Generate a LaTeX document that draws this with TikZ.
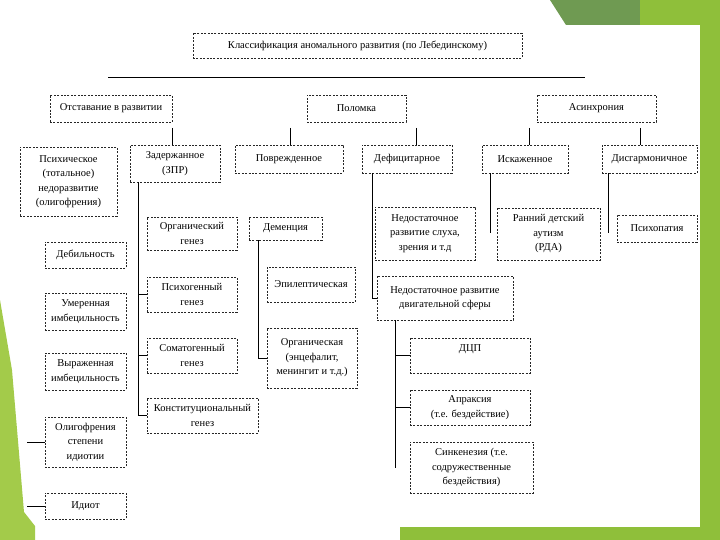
\documentclass[tikz,border=0pt]{standalone}
\usepackage{fontspec}
\setmainfont{Liberation Serif}
\usetikzlibrary{positioning}
\definecolor{darkleaf}{HTML}{6F9A52}
\definecolor{leaf}{HTML}{8FBF3A}
\definecolor{paleleaf}{HTML}{A3CB4A}
\tikzset{block/.style=
   {rectangle,
    draw=black!85,
    dash pattern=on 2pt off 1.4pt,
    line width=0.6pt,
    text centered,
    align=center,
    inner sep=1pt,
    font=\fontsize{10.5}{14.5}\selectfont}}
\tikzset{boxsize/.style 2 args={minimum width=#1pt, minimum height=#2pt}}
\tikzset{link/.style = {draw, line width=0.7pt}}

\begin{document}
\begin{tikzpicture}[x=1pt, y=-1pt]
    \useasboundingbox (0,0) rectangle (720,540);

    % Slide background
    \fill[white] (0,0) rectangle (720,540);
    \fill[darkleaf] (550,0) -- (640,0) -- (640,25) -- (566,25) -- cycle;
    \fill[leaf] (640,0) -- (720,0) -- (720,540) -- (700,540) -- (700,25) -- (640,25) -- cycle;
    \fill[paleleaf] (0,300) -- (12,370) -- (24,512) -- (35,526) -- (35,540) -- (0,540) -- cycle;
    \fill[leaf] (400,527) rectangle (720,540);

    % Title
    \node [block, boxsize={329}{25}] (title) at (357.5,45.5) {Классификация аномального развития (по Лебединскому)};
    \coordinate (hl) at (108,77);
    \coordinate (hr) at (585,77);
    \path [link] (hl) -- (hr);

    % Level 1
    \node [block, boxsize={122}{27}] (otst) at (111,108.5) {Отставание в развитии};
    \node [block, boxsize={99}{27}] (polom) at (356.5,108.5) {Поломка};
    \node [block, boxsize={119}{27}] (asin) at (596.5,108.5) {Асинхрония};

    % Level 2
    \node [block, boxsize={97}{69}] (psih) at (68.5,181.5) {Психическое\\(тотальное)\\недоразвитие\\(олигофрения)};
    \node [block, boxsize={90}{37}] (zpr) at (175,163.5) {Задержанное\\(ЗПР)};
    \node [block, boxsize={108}{28}] (povr) at (289,159) {Поврежденное};
    \node [block, boxsize={90}{28}] (defic) at (407,159) {Дефицитарное};
    \node [block, boxsize={86}{28}] (iskaz) at (525,159) {Искаженное};
    \node [block, boxsize={95}{28}] (disg) at (649.5,159) {Дисгармоничное};

    % Oligophrenia degrees
    \node [block, boxsize={81}{26}] (debil) at (85.5,255) {Дебильность};
    \node [block, boxsize={81}{37}] (umer) at (85.5,311.5) {Умеренная\\имбецильность};
    \node [block, boxsize={81}{37}] (vyr) at (85.5,371.5) {Выраженная\\имбецильность};
    \node [block, boxsize={81}{50}] (olig) at (85.5,442) {Олигофрения\\степени\\идиотии};
    \node [block, boxsize={81}{26}] (idiot) at (85.5,506) {Идиот};

    % ZPR kinds
    \node [block, boxsize={90}{33}] (orgg) at (192,233.5) {Органический\\генез};
    \node [block, boxsize={90}{35}] (psihg) at (192,294.5) {Психогенный\\генез};
    \node [block, boxsize={90}{35}] (somat) at (192,355.5) {Соматогенный\\генез};
    \node [block, boxsize={111}{35}] (konst) at (202.5,415.5) {Конституциональный\\генез};

    % Dementia
    \node [block, boxsize={73}{23}] (dem) at (285.5,228.5) {Деменция};
    \node [block, boxsize={88}{35}] (epil) at (311,284.5) {Эпилептическая};
    \node [block, boxsize={90}{60}] (orgd) at (312,358) {Органическая\\(энцефалит,\\менингит и т.д.)};

    % Deficit, distorted, disharmonic
    \node [block, boxsize={100}{53}] (sluh) at (425,233.5) {Недостаточное\\развитие слуха,\\зрения и т.д};
    \node [block, boxsize={103}{52}] (rda) at (548.5,234) {Ранний детский\\аутизм\\(РДА)};
    \node [block, boxsize={80}{27}] (psihop) at (657,228.5) {Психопатия};
    \node [block, boxsize={136}{44}] (dvig) at (445,298) {Недостаточное развитие\\двигательной сферы};
    \node [block, boxsize={120}{35}] (dcp) at (470,355.5) {ДЦП\\~};
    \node [block, boxsize={120}{35}] (aprak) at (470,407.5) {Апраксия\\(т.е. бездействие)};
    \node [block, boxsize={123}{51}] (sink) at (471.5,467.5) {Синкенезия (т.е.\\содружественные\\бездействия)};

    % Draw edges
    % Level 1 to level 2
    \coordinate (t1) at (172,128);
    \coordinate (t2) at (290,128);
    \coordinate (t3) at (416,128);
    \coordinate (t4) at (529,128);
    \coordinate (t5) at (640,128);
    \path [link] (t1) -- (t1 |- zpr.north);
    \path [link] (t2) -- (t2 |- povr.north);
    \path [link] (t3) -- (t3 |- defic.north);
    \path [link] (t4) -- (t4 |- iskaz.north);
    \path [link] (t5) -- (t5 |- disg.north);

    % Oligophrenia
    \path [link] (olig.west) -- ++(-18,0);
    \path [link] (idiot.west) -- ++(-18,0);

    % ZPR
    \coordinate (zl) at (138,0);
    \path [link] (zl |- zpr.south) |- (konst.west);
    \path [link] (zl |- psihg.west) -- (psihg.west);
    \path [link] (zl |- somat.west) -- (somat.west);

    % Dementia
    \coordinate (dl) at (258,0);
    \path [link] (dl |- dem.south) |- (orgd.west);

    % Deficit
    \coordinate (fl) at (372,0);
    \path [link] (fl |- defic.south) |- (dvig.west);
    \coordinate (ml) at (395,0);
    \path [link] (ml |- dvig.south) -- (ml |- sink.center);
    \path [link] (ml |- dcp.west) -- (dcp.west);
    \path [link] (ml |- aprak.west) -- (aprak.west);

    % Distorted, disharmonic
    \coordinate (il) at (490,233);
    \coordinate (gl) at (608,233);
    \path [link] (il |- iskaz.south) -- (il);
    \path [link] (gl |- disg.south) -- (gl);

\end{tikzpicture}
\end{document}
